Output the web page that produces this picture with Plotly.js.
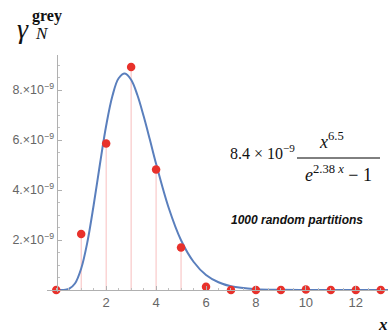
<!DOCTYPE html>
<html>
<head>
<meta charset="utf-8">
<script src="https://cdn.plot.ly/plotly-3.0.1.min.js"></script>
<style>html,body{margin:0;padding:0;background:#fff;}#chart{width:388px;height:335px;}</style>
</head>
<body>
<div id="chart"></div>
<script>
// Sample points (1000 random partitions)
const sampleX = [0, 1, 2, 3, 4, 5, 6, 7, 8, 9, 10, 11, 12, 13];
const sampleY = [0, 2.24e-9, 5.86e-9, 8.92e-9, 4.82e-9, 1.70e-9, 0.13e-9, 0.0, 0.0, 0.0, 0.02e-9, 0.0, 0.0, 0.0];
// Stems drawn for these sample indices
const stemIdx = [1, 2, 3, 4, 5];
// Fitted curve
const curveX = [0, 0.25, 0.5, 0.75, 1, 1.25, 1.5, 1.75, 2, 2.25, 2.5, 2.75, 3, 3.25, 3.5, 3.75, 4, 4.5, 5, 5.5, 6, 6.5, 7, 8, 9, 10, 11, 12, 13, 13.4];
const curveY = [0, 0.0, 0.04e-9, 0.26e-9, 0.86e-9, 1.93e-9, 3.40e-9, 5.03e-9, 6.57e-9, 7.76e-9, 8.47e-9, 8.66e-9, 8.41e-9, 7.80e-9, 6.96e-9, 6.02e-9, 5.05e-9, 3.30e-9, 1.99e-9, 1.13e-9, 0.60e-9, 0.31e-9, 0.15e-9, 0.034e-9, 0.007e-9, 0.001e-9, 0, 0, 0, 0];
// Tick labels
const yTickVals = [2e-9, 4e-9, 6e-9, 8e-9];
const yTickText = ['2.×10<sup>−9</sup>', '4.×10<sup>−9</sup>', '6.×10<sup>−9</sup>', '8.×10<sup>−9</sup>'];
const xTickVals = [2, 4, 6, 8, 10, 12];
const xTickText = ['2', '4', '6', '8', '10', '12'];

const W = 388, H = 335;
const M = {l: 47, r: 0, t: 55, b: 43};
const pw = W - M.l - M.r, ph = H - M.t - M.b;
const px = x => (x - M.l) / pw;
const py = y => (H - M.b - y) / ph;

const xRange = [-0.37, 13.29];
const yRange = [-0.08e-9, 9.4e-9];

const stemX = [], stemY = [];
stemIdx.forEach(i => { stemX.push(sampleX[i], sampleX[i], null); stemY.push(0, sampleY[i], null); });

const traces = [
  {x: stemX, y: stemY, mode: 'lines', line: {color: 'rgba(240,110,110,0.45)', width: 1}, hoverinfo: 'skip', showlegend: false},
  {x: curveX, y: curveY, mode: 'lines', line: {color: '#5a7fbd', width: 2, shape: 'spline', smoothing: 1}, showlegend: false},
  {x: sampleX, y: sampleY, mode: 'markers', marker: {color: '#e8312b', size: 8.5}, cliponaxis: false, showlegend: false}
];

const serif = '"Liberation Serif", "DejaVu Serif", serif';
const layout = {
  width: W, height: H,
  margin: M,
  paper_bgcolor: '#fff', plot_bgcolor: '#fff',
  showlegend: false,
  xaxis: {
    range: xRange, showgrid: false, zeroline: false,
    showline: true, linecolor: '#b0b0b0', linewidth: 1,
    anchor: 'free', position: py(290),
    ticks: 'inside', ticklen: 4, tickcolor: '#b0b0b0', tickwidth: 1,
    tickvals: xTickVals, ticktext: xTickText,
    minor: {dtick: 0.5, tick0: 0, ticks: 'inside', ticklen: 2, tickcolor: '#c0c0c0'},
    tickfont: {family: '"Liberation Sans", Arial, sans-serif', size: 13, color: '#666'}
  },
  yaxis: {
    range: yRange, showgrid: false, zeroline: false,
    showline: true, linecolor: '#b0b0b0', linewidth: 1,
    anchor: 'free', position: (56.5 - M.l) / pw,
    ticks: 'inside', ticklen: 4, tickcolor: '#b0b0b0', tickwidth: 1,
    tickvals: yTickVals, ticktext: yTickText,
    minor: {dtick: 0.5e-9, tick0: 0, ticks: 'inside', ticklen: 2, tickcolor: '#c0c0c0'},
    tickfont: {family: '"Liberation Sans", Arial, sans-serif', size: 12.5, color: '#666'}
  },
  shapes: [
    {type: 'line', xref: 'paper', yref: 'paper', x0: px(297), x1: px(380), y0: py(158), y1: py(158), line: {color: '#000', width: 1}}
  ],
  annotations: [
    {xref: 'paper', yref: 'paper', x: px(23), y: py(28), xanchor: 'center', yanchor: 'middle', showarrow: false,
     text: '<i>γ</i>', font: {family: serif, size: 28, color: '#111'}},
    {xref: 'paper', yref: 'paper', x: px(42), y: py(34), xanchor: 'center', yanchor: 'middle', showarrow: false,
     text: '<i>N</i>', font: {family: serif, size: 17, color: '#111'}},
    {xref: 'paper', yref: 'paper', x: px(47), y: py(16), xanchor: 'center', yanchor: 'middle', showarrow: false,
     text: '<b>grey</b>', font: {family: serif, size: 16, color: '#111'}},
    {xref: 'paper', yref: 'paper', x: px(228), y: py(152), xanchor: 'left', yanchor: 'middle', showarrow: false,
     text: '8.4 × 10<sup>−9</sup>', font: {family: serif, size: 16, color: '#111'}},
    {xref: 'paper', yref: 'paper', x: px(331), y: py(140), xanchor: 'center', yanchor: 'middle', showarrow: false,
     text: '<i>x</i><sup>6.5</sup>', font: {family: serif, size: 18, color: '#111'}},
    {xref: 'paper', yref: 'paper', x: px(338), y: py(173), xanchor: 'center', yanchor: 'middle', showarrow: false,
     text: '<i>e</i><sup>2.38 <i>x</i></sup> − 1', font: {family: serif, size: 18, color: '#111'}},
    {xref: 'paper', yref: 'paper', x: px(229), y: py(220), xanchor: 'left', yanchor: 'middle', showarrow: false,
     text: '<b><i>1000 random partitions</i></b>', font: {family: '"Liberation Sans", Arial, sans-serif', size: 12, color: '#111'}},
    {xref: 'paper', yref: 'paper', x: px(383), y: py(324), xanchor: 'center', yanchor: 'middle', showarrow: false,
     text: '<b><i>x</i></b>', font: {family: serif, size: 17, color: '#111'}}
  ]
};

Plotly.newPlot('chart', traces, layout, {displayModeBar: false, staticPlot: true});
</script>
</body>
</html>
